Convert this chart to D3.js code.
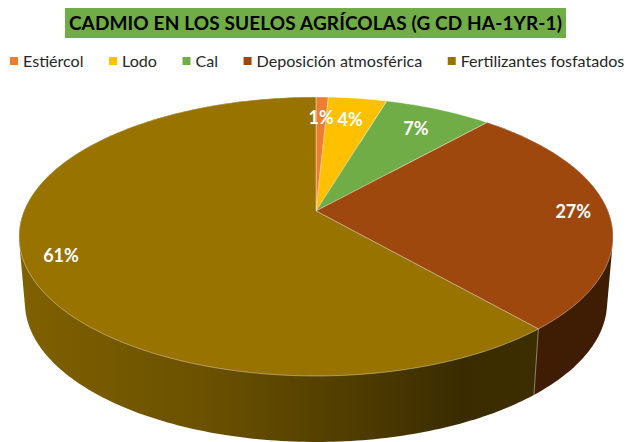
<!DOCTYPE html>
<html lang="es">

<head>
    <meta charset="UTF-8">
    <title>Cadmio en los suelos agrícolas</title>
    <script src="https://d3js.org/d3.v7.min.js"></script>
    <style>
        html,
        body {
            margin: 0;
            height: 100%;
            overflow: hidden;
            background: #fff;
        }

        text {
            font-family: Lato, "Open Sans", sans-serif;
        }
    </style>
</head>

<body>
    <svg id="svg"></svg>
    <script>
        const titleText = 'CADMIO EN LOS SUELOS AGRÍCOLAS (G CD HA-1YR-1)';
        const categories = ['Estiércol', 'Lodo', 'Cal', 'Deposición atmosférica', 'Fertilizantes fosfatados'];
        const values = [0.8, 3.8, 7, 27, 61.4];
        const colors = ['#ed7d31', '#ffc000', '#70ad47', '#9e480e', '#997300'];

        const width = 629;
        const height = 442;
        const svg = d3.select('#svg').attr('width', width).attr('height', height);

        // perspective disc: apex is above the middle of the ellipse
        const cx = 316, cy = 211;
        const spanX = 292, spanY = 134.8, tilt = 0.1828;
        const wallDrop = 66, wallShrink = 0.98;
        const x = d3.scaleLinear().domain([-1, 1]).range([cx - spanX, cx + spanX]);
        const y = d3.scaleLinear().domain([-1, 1]).range([cy + spanY, cy - spanY]);

        const project = function (angle, r) {
            const u = Math.sin(angle) * r, v = Math.cos(angle) * r;
            const w = 1 + tilt * v;
            return [x(u / w), y(v / w)];
        };
        const projectBottom = function (angle) {
            const p = project(angle, 1);
            return [cx + (p[0] - cx) * wallShrink, p[1] + wallDrop];
        };
        const arcAngles = function (a0, a1) {
            const n = Math.max(2, Math.ceil((a1 - a0) * 60));
            return d3.range(n + 1).map(i => a0 + (a1 - a0) * i / n);
        };

        const line = d3.line();
        const slices = d3.pie().sort(null).value(d => d)(values);

        const defs = svg.append('defs');
        const addGradient = function (id, x1, x2, stops) {
            const g = defs.append('linearGradient').attr('id', id)
                .attr('gradientUnits', 'userSpaceOnUse')
                .attr('x1', x1).attr('x2', x2).attr('y1', 0).attr('y2', 0);
            stops.forEach(s => g.append('stop').attr('offset', s[0]).attr('stop-color', s[1]));
        };
        addGradient('wallFert', 19, 541, [[0, '#806100'], [0.35, '#6b5100'], [0.6, '#533f00'], [0.85, '#3a2c00'], [1, '#3d2e00']]);
        addGradient('wallDepo', 535, 613, [[0, '#3f1d04'], [1, '#3f1d04']]);

        // side walls first, the top face then hides whatever is behind it
        const drawWall = function (s, fill) {
            const angles = arcAngles(s.startAngle, s.endAngle);
            const hull = d3.polygonHull(angles.map(a => project(a, 1)).concat(angles.map(projectBottom)));
            svg.append('path').attr('d', line(hull) + 'Z').attr('fill', fill);
        };
        drawWall(slices[3], 'url(#wallDepo)');
        drawWall(slices[4], 'url(#wallFert)');

        // light seam between the two walls
        const seam = slices[3].endAngle;
        svg.append('path').attr('d', line([project(seam, 1), projectBottom(seam)]))
            .attr('stroke', '#fff').attr('stroke-opacity', 0.6).attr('stroke-width', 0.7).attr('fill', 'none');

        svg.selectAll('path.slice').data(slices).join('path')
            .attr('class', 'slice')
            .attr('d', d => line([[cx, cy]].concat(arcAngles(d.startAngle, d.endAngle).map(a => project(a, 1)))) + 'Z')
            .attr('fill', (d, i) => colors[i])
            .attr('stroke', '#fff')
            .attr('stroke-opacity', 0.55)
            .attr('stroke-width', 0.7)
            .attr('stroke-linejoin', 'round');

        svg.selectAll('text.pct').data(slices).join('text')
            .attr('class', 'pct')
            .attr('transform', function (d) {
                const r = d.value >= 20 ? 0.88 : 0.79;
                const p = project((d.startAngle + d.endAngle) / 2, r);
                return `translate(${p[0]},${p[1]})`;
            })
            .attr('text-anchor', 'middle')
            .attr('dy', '0.36em')
            .attr('fill', '#fff')
            .attr('font-size', 18)
            .attr('font-weight', 700)
            .text(d => Math.round(d.value) + '%');

        // title
        svg.append('rect').attr('x', 65).attr('y', 8).attr('width', 501).attr('height', 30).attr('fill', '#70ad47');
        svg.append('text').attr('x', 315.5).attr('y', 29.5).attr('text-anchor', 'middle')
            .attr('font-size', 19).attr('font-weight', 700).attr('letter-spacing', 0.13).attr('fill', '#000').text(titleText);

        // legend
        let legendX = 10;
        categories.forEach(function (c, i) {
            svg.append('rect').attr('x', legendX).attr('y', 57).attr('width', 8).attr('height', 8).attr('fill', colors[i]);
            const t = svg.append('text').attr('x', legendX + 13).attr('y', 67)
                .attr('font-size', 16.1).attr('fill', '#262626').text(c);
            legendX += 13 + t.node().getComputedTextLength() + 25.5;
        });
    </script>
</body>

</html>
